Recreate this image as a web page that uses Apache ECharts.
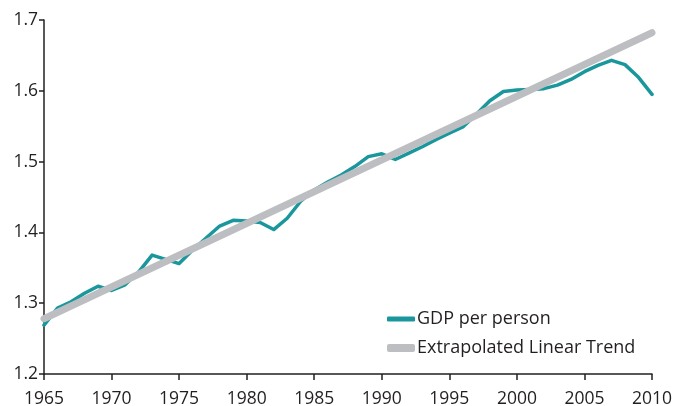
<!DOCTYPE html>
<html>
<head>
<meta charset="utf-8">
<script src="https://cdn.jsdelivr.net/npm/echarts@6/dist/echarts.min.js"></script>
<style>html,body{margin:0;padding:0;background:#fff;}#c{width:686px;height:406px;}</style>
</head>
<body>
<div id="c"></div>
<script>
const years = [1965,1966,1967,1968,1969,1970,1971,1972,1973,1974,1975,1976,1977,1978,1979,1980,1981,1982,1983,1984,1985,1986,1987,1988,1989,1990,1991,1992,1993,1994,1995,1996,1997,1998,1999,2000,2001,2002,2003,2004,2005,2006,2007,2008,2009,2010];
const gdpPerPerson = [1.269,1.293,1.302,1.314,1.324,1.318,1.326,1.344,1.368,1.362,1.356,1.375,1.392,1.409,1.417,1.416,1.414,1.404,1.420,1.444,1.460,1.471,1.481,1.493,1.507,1.511,1.503,1.512,1.521,1.531,1.540,1.549,1.567,1.586,1.599,1.601,1.602,1.603,1.608,1.616,1.627,1.636,1.643,1.637,1.619,1.595];
const trendYears = [1965, 2010];
const trendValues = [1.278, 1.682];
const seriesNames = ['GDP per person', 'Extrapolated Linear Trend'];

const TEAL = '#1a979c', GRAY = '#bdbec1', INK = '#231f20';
const font = 'Open Sans';
const chart = echarts.init(document.getElementById('c'), null, {renderer: 'canvas'});
chart.setOption({
  animation: false,
  backgroundColor: '#fff',
  grid: {left: 44, right: 34, top: 20, bottom: 32, containLabel: false, outerBoundsMode: 'none'},
  xAxis: {
    type: 'value', min: 1965, max: 2010, interval: 5,
    axisLine: {show: true, onZero: false, lineStyle: {color: INK, width: 1.5}},
    axisTick: {show: true, length: 6, lineStyle: {color: INK, width: 1.5}},
    splitLine: {show: false},
    axisLabel: {color: INK, fontFamily: font, fontSize: 17.5, margin: 10, padding: [6, 0, 0, 0], formatter: v => String(v)}
  },
  yAxis: {
    type: 'value', min: 1.2, max: 1.7, interval: 0.1,
    axisLine: {show: true, onZero: false, lineStyle: {color: INK, width: 1.5}},
    axisTick: {show: true, length: 5, lineStyle: {color: INK, width: 1.5}},
    splitLine: {show: false},
    axisLabel: {color: INK, fontFamily: font, fontSize: 17.5, margin: 6, formatter: v => v.toFixed(1)}
  },
  legend: [
    {data: [seriesNames[0]], left: 382, top: 305, orient: 'vertical', icon: 'roundRect',
     itemWidth: 28, itemHeight: 5, itemGap: 0,
     textStyle: {color: INK, fontFamily: font, fontSize: 18, padding: [0,0,0,-3]}},
    {data: [seriesNames[1]], left: 382, top: 334, orient: 'vertical', icon: 'roundRect',
     itemWidth: 28, itemHeight: 8, itemGap: 0,
     textStyle: {color: INK, fontFamily: font, fontSize: 18, padding: [0,0,0,-3]}}
  ],
  series: [
    {name: seriesNames[0], type: 'line', color: TEAL, symbol: 'none',
     data: years.map((y, i) => [y, gdpPerPerson[i]]),
     lineStyle: {color: TEAL, width: 3.5, join: 'round', cap: 'round'}},
    {name: seriesNames[1], type: 'line', color: GRAY, symbol: 'none',
     data: trendYears.map((y, i) => [y, trendValues[i]]),
     lineStyle: {color: GRAY, width: 7, cap: 'round'}}
  ]
});
</script>
</body>
</html>
